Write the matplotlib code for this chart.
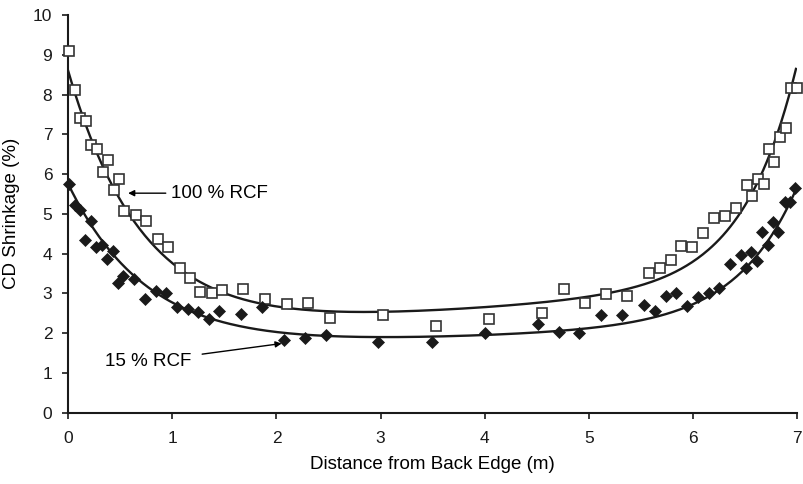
import numpy as np
import matplotlib
matplotlib.use("Agg")
import matplotlib.pyplot as plt

# 100 % RCF (open squares)
x100 = [0.01, 0.06, 0.11, 0.17, 0.22, 0.28, 0.33, 0.38, 0.44, 0.49, 0.54, 0.65, 0.75,
        0.86, 0.96, 1.07, 1.17, 1.27, 1.38, 1.48, 1.68, 1.89, 2.10, 2.30, 2.51, 3.02,
        3.53, 4.04, 4.55, 4.76, 4.96, 5.17, 5.37, 5.58, 5.68, 5.79, 5.89, 5.99, 6.10,
        6.20, 6.31, 6.41, 6.52, 6.57, 6.63, 6.68, 6.73, 6.78, 6.84, 6.89, 6.94, 7.00]
y100 = [9.10, 8.12, 7.42, 7.33, 6.73, 6.63, 6.05, 6.36, 5.61, 5.87, 5.06, 4.97, 4.83,
        4.36, 4.17, 3.63, 3.39, 3.03, 3.02, 3.09, 3.10, 2.85, 2.73, 2.76, 2.39, 2.46,
        2.19, 2.35, 2.50, 3.11, 2.77, 2.98, 2.93, 3.51, 3.63, 3.85, 4.20, 4.17, 4.52,
        4.89, 4.95, 5.14, 5.72, 5.45, 5.88, 5.75, 6.63, 6.30, 6.93, 7.15, 8.16, 8.16]

# 15 % RCF (filled diamonds)
x15 = [0.01, 0.06, 0.11, 0.16, 0.22, 0.27, 0.32, 0.37, 0.43, 0.48, 0.53, 0.63, 0.74,
       0.84, 0.94, 1.04, 1.15, 1.25, 1.35, 1.45, 1.66, 1.86, 2.07, 2.27, 2.48, 2.98,
       3.49, 4.00, 4.51, 4.71, 4.91, 5.12, 5.32, 5.53, 5.64, 5.74, 5.84, 5.94, 6.05,
       6.15, 6.25, 6.36, 6.46, 6.51, 6.56, 6.62, 6.66, 6.72, 6.77, 6.82, 6.88, 6.93, 6.98]
y15 = [5.75, 5.22, 5.09, 4.34, 4.83, 4.17, 4.21, 3.87, 4.07, 3.27, 3.43, 3.35, 2.86,
       3.06, 3.00, 2.66, 2.62, 2.52, 2.35, 2.56, 2.48, 2.65, 1.84, 1.88, 1.96, 1.79,
       1.79, 2.00, 2.24, 2.03, 2.01, 2.45, 2.46, 2.70, 2.56, 2.93, 3.02, 2.68, 2.90,
       3.02, 3.13, 3.75, 3.96, 3.64, 4.05, 3.81, 4.55, 4.21, 4.79, 4.54, 5.31, 5.31, 5.66]

# Trend-line values
trend100_x = [0.0, 0.11, 0.24, 0.40, 0.56, 0.75, 0.945, 1.20, 1.52, 1.84, 2.32, 2.80, 3.44,
              4.12, 4.75, 5.24, 5.72, 6.04, 6.36, 6.58, 6.67, 6.74, 6.84, 6.93, 6.99]
trend100_y = [8.74, 7.57, 6.61, 5.77, 5.14, 4.47, 3.97, 3.40, 2.96, 2.75, 2.60, 2.54, 2.51,
              2.62, 2.79, 3.04, 3.50, 3.97, 4.68, 5.43, 5.89, 6.65, 7.32, 8.16, 8.53]
trend15_x = [0.0, 0.11, 0.24, 0.40, 0.56, 0.75, 0.945, 1.20, 1.36, 1.52, 1.84, 2.32, 2.80,
             3.44, 3.99, 4.71, 4.92, 5.40, 5.94, 6.25, 6.50, 6.71, 6.87, 6.98]
trend15_y = [5.73, 5.18, 4.68, 4.09, 3.63, 3.17, 2.83, 2.54, 2.35, 2.23, 2.08, 1.98, 1.93,
             1.90, 2.00, 2.03, 2.04, 2.29, 2.68, 3.13, 3.63, 4.22, 4.93, 5.60]

x_ticks = [0, 1, 2, 3, 4, 5, 6, 7]
y_ticks = [0, 1, 2, 3, 4, 5, 6, 7, 8, 9, 10]
x_label = "Distance from Back Edge (m)"
y_label = "CD Shrinkage (%)"
label100 = "100 % RCF"
label15 = "15 % RCF"


def fit_trend(x, y, xmax=7.0):
    """Smooth trend: least-squares y = a + d*x + b*exp(-x/t1) + c*exp((x-xmax)/t2)."""
    x = np.asarray(x, float)
    y = np.asarray(y, float)
    best = None
    grid = np.arange(0.25, 1.60, 0.01)
    for t1 in grid:
        e1 = np.exp(-x / t1)
        for t2 in grid:
            A = np.column_stack([np.ones_like(x), x, e1, np.exp((x - xmax) / t2)])
            coef, *_ = np.linalg.lstsq(A, y, rcond=None)
            r = np.sum((A @ coef - y) ** 2)
            if best is None or r < best[0]:
                best = (r, t1, t2, coef)
    _, t1, t2, coef = best
    return lambda xx: (coef[0] + coef[1] * xx + coef[2] * np.exp(-xx / t1)
                       + coef[3] * np.exp((xx - xmax) / t2))


plt.rcParams['font.family'] = ['Liberation Sans', 'DejaVu Sans']

fig = plt.figure(figsize=(8.04, 4.84), dpi=100)
ax = fig.add_axes([0.0849, 0.1473, 0.9064, 0.8217])

f100 = fit_trend(trend100_x, trend100_y)
f15 = fit_trend(trend15_x, trend15_y)
xs100 = np.linspace(min(trend100_x), max(trend100_x), 400)
xs15 = np.linspace(min(trend15_x), max(trend15_x), 400)
ax.plot(xs100, f100(xs100), color='#1a1a1a', lw=1.7, zorder=2)
ax.plot(xs15, f15(xs15), color='#1a1a1a', lw=1.7, zorder=2)

ax.plot(x100, y100, linestyle='none', marker='s', markersize=7.5, markerfacecolor='white',
        markeredgecolor='#333333', markeredgewidth=1.2, zorder=3, clip_on=False)
ax.plot(x15, y15, linestyle='none', marker='D', markersize=6, markerfacecolor='#1a1a1a',
        markeredgecolor='#1a1a1a', markeredgewidth=0.5, zorder=3, clip_on=False)

ax.annotate(label100, xy=(0.575, 5.52), xytext=(0.99, 5.52), fontsize=13.5,
            va='center', ha='left',
            arrowprops=dict(arrowstyle='-|>', lw=1.0, color='black', mutation_scale=9,
                            shrinkA=2, shrinkB=0))
ax.annotate(label15, xy=(2.05, 1.74), xytext=(1.18, 1.29), fontsize=13.5,
            va='center', ha='right',
            arrowprops=dict(arrowstyle='-|>', lw=1.0, color='black', mutation_scale=9,
                            shrinkA=6, shrinkB=0))

ax.set_xlim(0, 7)
ax.set_ylim(0, 10)
ax.set_xticks(x_ticks)
ax.set_yticks(y_ticks)
ax.set_xticklabels([str(v) for v in x_ticks])
ax.set_yticklabels([str(v) for v in y_ticks])
for s in ['top', 'right']:
    ax.spines[s].set_visible(False)
for s in ['left', 'bottom']:
    ax.spines[s].set_linewidth(1.5)
    ax.spines[s].set_color('#1a1a1a')
ax.tick_params(direction='out', length=4.5, width=1.2, labelsize=12.5, colors='#1a1a1a')
ax.tick_params(axis='x', pad=9)
ax.tick_params(axis='y', pad=7)
ax.set_xlabel(x_label, fontsize=13.5, labelpad=7)
ax.set_ylabel(y_label, fontsize=13.5, labelpad=9)

fig.savefig('out.png', dpi=100)
